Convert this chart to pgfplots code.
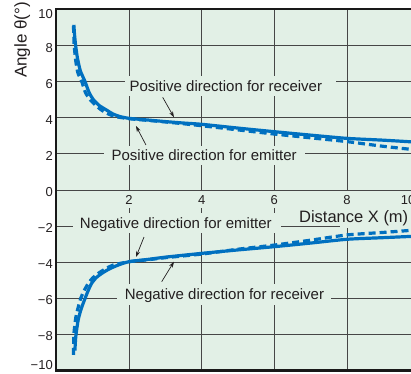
\documentclass[border=0pt]{standalone}
\usepackage{pgfplots}
\pgfplotsset{compat=1.18}
\usepackage{fontspec}
\setmainfont{Liberation Sans}
\usetikzlibrary{arrows.meta}
\definecolor{bg}{RGB}{226,240,230}
\definecolor{curve}{RGB}{0,112,192}
\definecolor{gridc}{RGB}{70,70,70}
\definecolor{txt}{RGB}{35,31,32}
\newcommand{\tickfont}{\fontsize{13bp}{15bp}\selectfont}
\newcommand{\annfont}{\fontsize{15bp}{18bp}\selectfont}

\pgfplotstableread{
x y
0.48 9.15
0.50 8.6
0.53 8.0
0.58 7.3
0.66 6.6
0.79 6.0
0.90 5.4
1.02 5.0
1.18 4.68
1.38 4.43
1.55 4.22
1.75 4.07
2.0 3.97
2.5 3.88
3.0 3.79
3.5 3.71
4.0 3.64
5.0 3.43
6.0 3.23
7.0 3.04
8.0 2.86
9.0 2.76
10.0 2.64
}\posemit

\pgfplotstableread{
x y
0.47 9.1
0.48 8.5
0.49 8.0
0.53 7.2
0.59 6.5
0.70 6.0
0.80 5.4
0.93 5.0
1.08 4.7
1.24 4.43
1.42 4.22
1.62 4.07
2.0 3.95
2.5 3.86
3.0 3.77
3.5 3.67
4.0 3.56
5.0 3.33
6.0 3.10
7.0 2.89
8.0 2.68
9.0 2.42
10.0 2.2
}\posrecv

\pgfplotstableread{
x y
0.51 -8.9
0.52 -8.5
0.54 -8.0
0.60 -7.2
0.68 -6.6
0.79 -6.0
0.88 -5.55
0.97 -5.17
1.10 -4.85
1.25 -4.62
1.45 -4.38
1.70 -4.16
2.0 -3.97
2.5 -3.85
3.0 -3.72
4.0 -3.51
5.0 -3.32
6.0 -3.14
7.0 -2.94
8.0 -2.73
9.0 -2.64
10.0 -2.55
}\negemit

\pgfplotstableread{
x y
0.47 -9.14
0.475 -8.5
0.48 -8.0
0.54 -7.0
0.67 -6.0
0.77 -5.55
0.88 -5.17
1.0 -4.87
1.15 -4.62
1.35 -4.37
1.56 -4.16
2.0 -3.97
2.5 -3.87
3.0 -3.75
4.0 -3.55
5.0 -3.28
6.0 -3.05
7.0 -2.78
8.0 -2.49
9.0 -2.35
10.0 -2.2
}\negrecv

\begin{document}
\begin{tikzpicture}
\begin{axis}[
  at={(0,0)}, anchor=south west,
  scale only axis, width=377.8bp, height=361bp,
  xmin=0, xmax=10.4, ymin=-10, ymax=10,
  xtick={2,4,6,8,10}, xticklabels={},
  ytick={-10,-8,-6,-4,-2,0,2,4,6,8,10},
  yticklabels={,−8,−6,−4,−2,0,2,4,6,8,},
  yticklabel style={font=\tickfont, text=txt, yshift=-2bp, inner xsep=3.4bp},
  major tick length=0pt,
  grid=major,
  major grid style={gridc, line width=0.8bp},
  axis background/.style={fill=bg},
  axis line style={line width=2bp, black!90},
  clip=false,
]
% masks behind the annotation texts
\fill[bg] (axis cs:1.888,5.208) rectangle (axis cs:7.696,6.316);
\fill[bg] (axis cs:1.310,1.385) rectangle (axis cs:6.843,2.438);
\fill[bg] (axis cs:0.457,-2.382) rectangle (axis cs:6.182,-1.274);
\fill[bg] (axis cs:1.668,-6.371) rectangle (axis cs:7.559,-5.208);
\fill[bg] (axis cs:7.807,-2.078) rectangle (axis cs:10.4,-0.776);

\addplot[curve, line width=3.2bp, smooth, tension=0.4] table[x=x,y=y] {\posemit};
\addplot[curve, line width=3.2bp, smooth, tension=0.4, dash pattern=on 7bp off 4bp] table[x=x,y=y] {\posrecv};
\addplot[curve, line width=3.2bp, smooth, tension=0.4] table[x=x,y=y] {\negemit};
\addplot[curve, line width=3.2bp, smooth, tension=0.4, dash pattern=on 7bp off 4bp] table[x=x,y=y] {\negrecv};

% y end labels, kept inside the frame's height as in the reference
\node[inner sep=0pt, font=\tickfont, text=txt, anchor=east, xshift=-3.4bp, yshift=-4.5bp] at (axis cs:0,10) {10};
\node[inner sep=0pt, font=\tickfont, text=txt, anchor=east, xshift=-3.4bp, yshift=5.5bp] at (axis cs:0,-10) {−10};

% x tick labels on the zero line
\node[fill=bg, inner xsep=1.5bp, inner ysep=0pt, minimum height=17bp, font=\tickfont, text=txt, anchor=north, yshift=-1bp] at (axis cs:2,0) {2};
\node[fill=bg, inner xsep=1.5bp, inner ysep=0pt, minimum height=17bp, font=\tickfont, text=txt, anchor=north, yshift=-1bp] at (axis cs:4,0) {4};
\node[fill=bg, inner xsep=1.5bp, inner ysep=0pt, minimum height=17bp, font=\tickfont, text=txt, anchor=north, yshift=-1bp] at (axis cs:6,0) {6};
\node[fill=bg, inner xsep=1.5bp, inner ysep=0pt, minimum height=17bp, font=\tickfont, text=txt, anchor=north, yshift=-1bp] at (axis cs:8,0) {8};
\node[fill=bg, inner xsep=1.5bp, inner ysep=0pt, minimum height=17bp, font=\tickfont, text=txt, anchor=north, yshift=-1bp] at (axis cs:9.68,0) {10};

% annotations
\node[inner sep=0pt, font=\annfont, text=txt, anchor=center] at (axis cs:4.664,5.762) {Positive direction for receiver};
\node[inner sep=0pt, font=\annfont, text=txt, anchor=center] at (axis cs:4.068,1.956) {Positive direction for emitter};
\node[inner sep=0pt, font=\annfont, text=txt, anchor=base] at (axis cs:3.288,-2.12) {Negative direction for emitter};
\node[inner sep=0pt, font=\annfont, text=txt, anchor=base] at (axis cs:4.627,-6.055) {Negative direction for receiver};
\node[inner sep=0pt, font=\fontsize{16.5bp}{19bp}\selectfont, text=txt, anchor=base west] at (axis cs:6.677,-1.81) {Distance X (m)};

% arrows
\draw[txt, line width=0.7bp, -{Stealth[length=6bp,width=4bp]}] (axis cs:2.926,5.136) -- (axis cs:3.237,4.028);
\draw[txt, line width=0.7bp, -{Stealth[length=6bp,width=4bp]}] (axis cs:2.466,2.493) -- (axis cs:2.191,3.546);
\draw[txt, line width=0.7bp, -{Stealth[length=6bp,width=4bp]}] (axis cs:2.411,-2.604) -- (axis cs:2.191,-3.712);
\draw[txt, line width=0.7bp, -{Stealth[length=6bp,width=4bp]}] (axis cs:2.898,-5.080) -- (axis cs:3.237,-3.972);
\end{axis}
\node[rotate=90, anchor=base, inner sep=0pt, text=txt, font=\fontsize{17bp}{20bp}\selectfont] at (-29.9bp,330.5bp) {Angle θ(°)};
\pgfresetboundingbox
\path[use as bounding box] (-56.4bp,-3.5bp) rectangle (354.6bp,370.5bp);
\end{tikzpicture}
\end{document}
